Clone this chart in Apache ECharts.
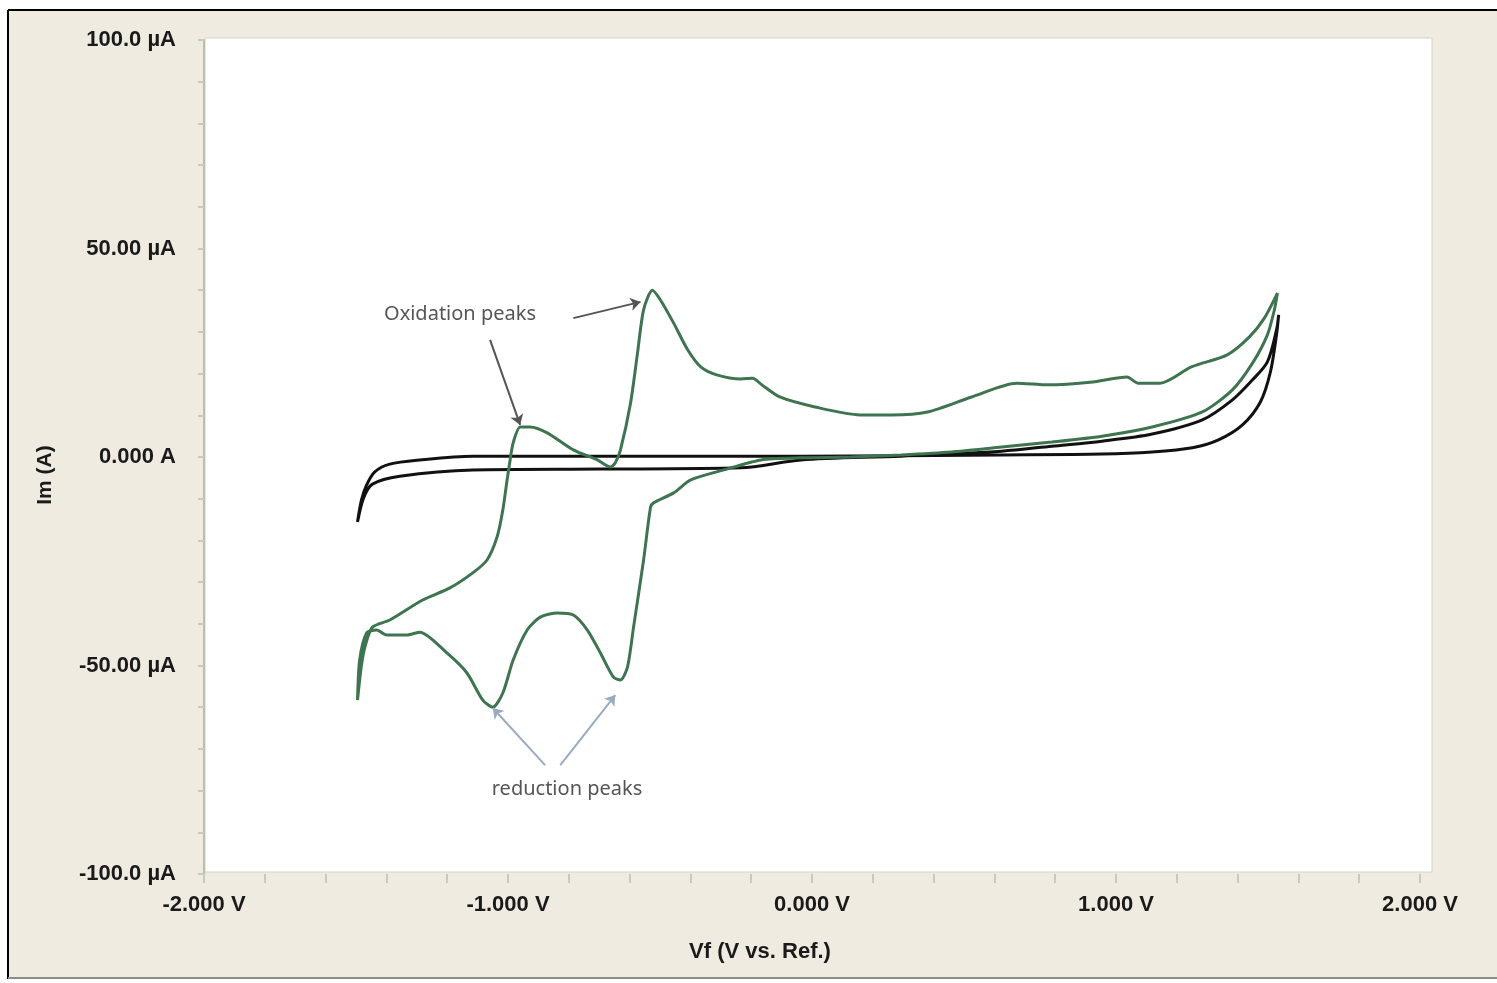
<!DOCTYPE html>
<html><head><meta charset="utf-8">
<script src="https://cdn.jsdelivr.net/npm/echarts@6/dist/echarts.min.js"></script>
<style>html,body{margin:0;padding:0;background:#fff}#c{width:1497px;height:983px}</style>
</head><body><div id="c"></div>
<script>
// ---- tick labels ----
const yTicks = [-100, -50, 0, 50, 100];
const yTickLabels = ['-100.0 \u00b5A', '-50.00 \u00b5A', '0.000 A', '50.00 \u00b5A', '100.0 \u00b5A'];
const xTicks = [-2, -1, 0, 1, 2];
const xTickLabels = ['-2.000 V', '-1.000 V', '0.000 V', '1.000 V', '2.000 V'];

// ---- green CV (sample) : anodic sweep, potential (V) and current (uA) ----
const greenAnodicV = [-1.495,-1.482,-1.469,-1.446,-1.389,-1.281,-1.191,-1.116,-1.069,-1.036,-1.017,-1.003,-0.993,-0.983,-0.960,-0.927,-0.871,-0.785,-0.706,-0.663,-0.647,-0.630,-0.597,-0.574,-0.554,-0.525,-0.498,-0.455,-0.409,-0.366,-0.314,-0.234,-0.195,-0.165,-0.106,0.010,0.158,0.261,0.380,0.525,0.673,0.776,0.924,1.036,1.073,1.145,1.248,1.366,1.439,1.488,1.531];
const greenAnodicI = [-58.3,-49.9,-45.1,-40.8,-39.1,-34.3,-31.4,-27.8,-24.7,-19.2,-12.7,-5.5,-0.7,3.4,7.2,7.2,5.8,1.7,-0.7,-2.4,-1.4,1.7,12.9,24.9,35.3,40.0,37.6,32.1,25.7,21.6,19.7,18.7,18.9,17.3,14.4,12.0,10.1,10.1,10.8,14.4,17.7,17.3,18.0,19.2,17.7,17.7,21.6,24.5,28.8,33.3,39.3];
// ---- green CV : cathodic sweep ----
const greenCathodicV = [1.531,1.521,1.498,1.449,1.383,1.284,1.119,0.954,0.789,0.624,0.459,0.294,0.129,-0.036,-0.168,-0.290,-0.399,-0.455,-0.521,-0.531,-0.554,-0.587,-0.607,-0.630,-0.653,-0.696,-0.739,-0.785,-0.838,-0.894,-0.937,-0.983,-1.017,-1.050,-1.083,-1.135,-1.201,-1.290,-1.333,-1.399,-1.432,-1.465,-1.488,-1.495];
const greenCathodicI = [39.3,35.3,29.3,22.5,16.1,10.8,7.2,5.0,3.6,2.4,1.2,0.5,0.0,-0.2,-0.7,-3.1,-5.5,-8.6,-11.0,-12.0,-24.7,-40.8,-50.4,-53.5,-52.8,-47.0,-41.5,-37.9,-37.4,-38.4,-41.5,-48.7,-56.6,-60.0,-58.3,-51.8,-47.0,-42.0,-42.7,-42.7,-41.5,-42.2,-48.7,-58.3];

// ---- black CV (blank) : forward and reverse branches ----
const blackFwdV = [-1.495,-1.482,-1.465,-1.439,-1.389,-1.290,-1.116,-0.696,-0.036,0.624,0.954,1.119,1.251,1.337,1.416,1.475,1.508,1.528,1.535];
const blackFwdI = [-15.6,-10.3,-6.7,-3.6,-1.7,-0.7,0.2,0.2,0.2,0.5,0.7,1.2,2.2,4.1,7.7,13.2,20.4,29.3,34.1];
const blackRevV = [1.535,1.528,1.498,1.449,1.383,1.284,1.119,0.954,0.789,0.624,0.294,-0.036,-0.234,-0.696,-1.116,-1.356,-1.446,-1.475,-1.495];
const blackRevI = [34.1,30.5,22.8,18.5,13.7,8.9,5.5,3.8,2.6,1.4,0.2,-0.7,-2.6,-2.9,-3.1,-4.6,-6.5,-9.8,-15.6];

// ---- annotation arrows (data coordinates: [V, uA]) ----
const oxArrowStart = [[-0.785, 33.3], [-1.059, 28.1]];
const oxArrowEnd   = [[-0.564, 37.2], [-0.960, 7.7]];
const redArrowStart = [[-0.878, -73.9], [-0.828, -73.9]];
const redArrowEnd   = [[-1.050, -60.2], [-0.647, -57.1]];

const zip = (a, b) => a.map((v, i) => [v, b[i]]);
const greenData = zip(greenAnodicV, greenAnodicI).concat(zip(greenCathodicV, greenCathodicI));
const blackData = zip(blackFwdV, blackFwdI).concat(zip(blackRevV, blackRevI));
const arrows = (s, e) => s.map((p, i) => [{coord: p}, {coord: e[i]}]);

const chart = echarts.init(document.getElementById('c'), null, {renderer: 'canvas'});
const labelFont = 'Liberation Sans, Arial, sans-serif';
chart.setOption({
  animation: false,
  backgroundColor: '#ffffff',
  grid: {left: 204, right: 77, top: 40, bottom: 109, containLabel: false},
  xAxis: {
    type: 'value', min: -2, max: 2, interval: 1,
    axisLine: {show: false, onZero: false},
    axisTick: {show: true, length: 9, inside: false, lineStyle: {color: '#c9c9c0', width: 2}},
    minorTick: {show: true, splitNumber: 5, length: 9, lineStyle: {color: '#c9c9c0', width: 2}},
    splitLine: {show: false},
    axisLabel: {
      margin: 20, color: '#1a1a1a', fontSize: 22, fontWeight: 'bold', fontFamily: labelFont,
      formatter: v => { const i = xTicks.findIndex(t => Math.abs(t - v) < 1e-6); return i >= 0 ? xTickLabels[i] : ''; }
    }
  },
  yAxis: {
    type: 'value', min: -100, max: 100, interval: 50,
    axisLine: {show: true, onZero: false, lineStyle: {color: '#b8c0b0', width: 2}},
    axisTick: {show: true, length: 6, lineStyle: {color: '#c9c9c0', width: 2}},
    minorTick: {show: true, splitNumber: 5, length: 6, lineStyle: {color: '#c9c9c0', width: 2}},
    splitLine: {show: false},
    axisLabel: {
      margin: 28, color: '#1a1a1a', fontSize: 22, fontWeight: 'bold', fontFamily: labelFont,
      formatter: v => { const i = yTicks.findIndex(t => Math.abs(t - v) < 1e-6); return i >= 0 ? yTickLabels[i] : ''; }
    }
  },
  graphic: [
    {type: 'rect', z: -20, shape: {x: 8, y: 10, width: 1500, height: 968}, style: {fill: '#efebe1', stroke: null}},
    {type: 'line', z: -19, shape: {x1: 8, y1: 10, x2: 1497, y2: 10}, style: {stroke: '#000', lineWidth: 2}},
    {type: 'line', z: -19, shape: {x1: 8, y1: 10, x2: 8, y2: 979}, style: {stroke: '#000', lineWidth: 2}},
    {type: 'line', z: -19, shape: {x1: 8, y1: 978, x2: 1497, y2: 978}, style: {stroke: '#8c8c88', lineWidth: 2}},
    {type: 'rect', z: -18, shape: {x: 205, y: 38, width: 1227, height: 834}, style: {fill: '#ffffff', stroke: '#d2d2ca', lineWidth: 1}},
    {type: 'text', z: 10, x: 760, y: 952, style: {text: 'Vf (V vs. Ref.)', fill: '#1a1a1a', font: 'bold 22px Liberation Sans, Arial, sans-serif', textAlign: 'center', textVerticalAlign: 'middle'}},
    {type: 'text', z: 10, x: 45, y: 475, rotation: Math.PI / 2, style: {text: 'Im (A)', fill: '#1a1a1a', font: 'bold 21px Liberation Sans, Arial, sans-serif', textAlign: 'center', textVerticalAlign: 'middle'}},
    {type: 'text', z: 10, x: 460, y: 314, style: {text: 'Oxidation peaks', fill: '#555555', font: '20px Noto Sans, sans-serif', textAlign: 'center', textVerticalAlign: 'middle'}},
    {type: 'text', z: 10, x: 567, y: 789, style: {text: 'reduction peaks', fill: '#555555', font: '20px Noto Sans, sans-serif', textAlign: 'center', textVerticalAlign: 'middle'}}
  ],
  series: [
    {
      type: 'line', name: 'blank', data: blackData, showSymbol: false, smooth: 0.3,
      lineStyle: {color: '#111111', width: 3}, z: 3
    },
    {
      type: 'line', name: 'sample', data: greenData, showSymbol: false, smooth: 0.25,
      lineStyle: {color: '#3e7450', width: 3}, z: 4,
      markLine: {
        silent: true, symbol: ['none', 'arrow'], symbolSize: 10, label: {show: false},
        data: arrows(oxArrowStart, oxArrowEnd).map(d => (d[0].lineStyle = {color: '#555555', width: 2, type: 'solid'}, d))
          .concat(arrows(redArrowStart, redArrowEnd).map(d => (d[0].lineStyle = {color: '#9aabbf', width: 2, type: 'solid'}, d)))
      }
    }
  ]
});
</script></body></html>
